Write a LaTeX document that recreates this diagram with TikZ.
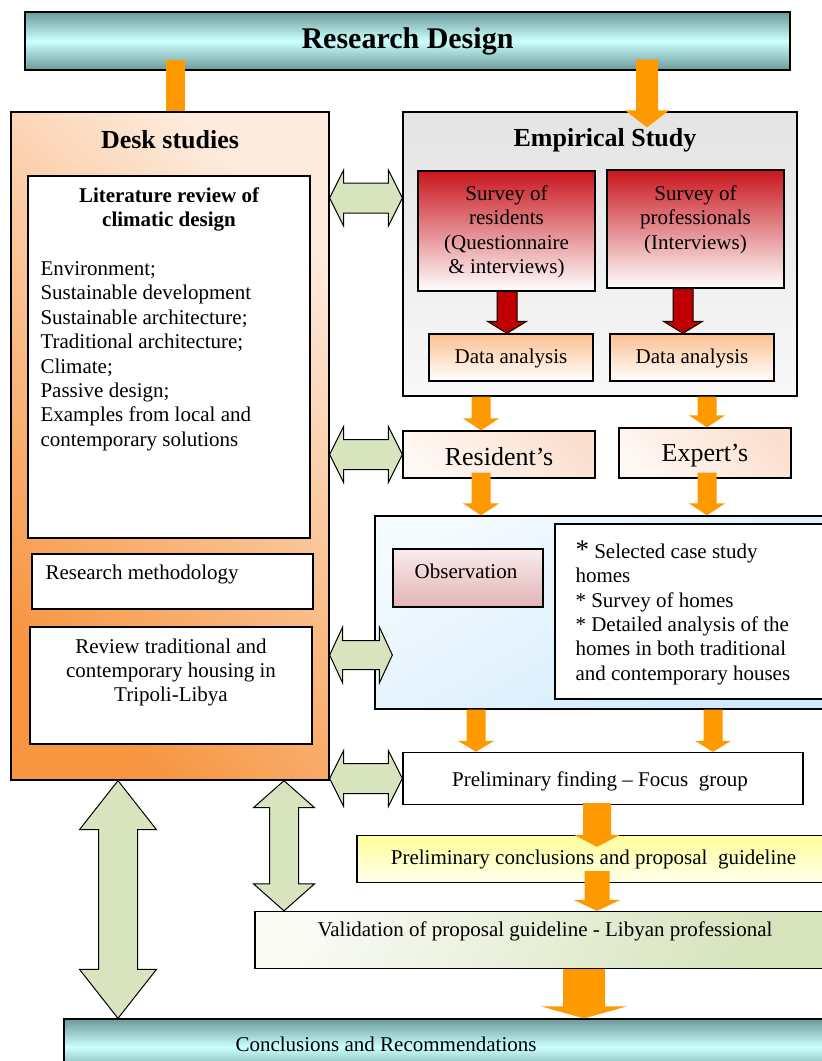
\documentclass[tikz,border=0pt]{standalone}
\usepackage{fontspec}
\setmainfont{Liberation Serif}
\usetikzlibrary{calc,positioning}
\definecolor{rdorange}{HTML}{FF9900}
\definecolor{rdgreen}{HTML}{D7E4BD}
\definecolor{rdred}{HTML}{C00000}
\definecolor{rdteal}{HTML}{6C9A9A}
\definecolor{rdcyan}{HTML}{CCFFFF}
\definecolor{rddesk}{HTML}{F79540}
\definecolor{rddesklight}{HTML}{FDEBDD}
\definecolor{rdgrey}{HTML}{E4E4E4}
\definecolor{rdgreylight}{HTML}{F8F8F8}
\definecolor{rdsurvey}{HTML}{C8161D}
\definecolor{rdapricot}{HTML}{FBC08F}
\definecolor{rdpeach}{HTML}{FBE0CF}
\definecolor{rdpeachlight}{HTML}{FFF8F3}
\definecolor{rdsky}{HTML}{F4FAFF}
\definecolor{rdskydeep}{HTML}{D0EAFB}
\definecolor{rdrose}{HTML}{F9ECEC}
\definecolor{rdrosedeep}{HTML}{E3B3B4}
\definecolor{rdlemon}{HTML}{FFFF99}
\definecolor{rdlemonlight}{HTML}{FFFFEC}
\definecolor{rdolive}{HTML}{D6E3BB}
\definecolor{rdolivelight}{HTML}{F8FAF3}
\newcommand\bodysize{\fontsize{21pt}{24.4pt}\selectfont}
\newcommand\headsize{\fontsize{26pt}{30pt}\selectfont}
\newcommand\bannersize{\fontsize{30pt}{36pt}\selectfont}
\tikzset{
  box/.style={draw,line width=1.3pt,inner sep=0pt},
  plainbox/.style={box,fill=white},
  tealbox/.style={box,top color=rdteal,bottom color=rdteal,middle color=rdcyan},
  deskbox/.style={box,top color=rddesklight,bottom color=rddesk,shading angle=-45},
  greybox/.style={box,top color=rdgrey,bottom color=rdgreylight},
  redbox/.style={box,top color=rdsurvey,bottom color=white},
  apricotbox/.style={box,top color=rdapricot,bottom color=white},
  peachbox/.style={box,top color=rdpeach,bottom color=rdpeachlight,shading angle=-45},
  skybox/.style={box,top color=rdsky,bottom color=rdskydeep,shading angle=30},
  rosebox/.style={box,top color=rdrose,bottom color=rdrosedeep},
  lemonbox/.style={box,top color=rdlemon,bottom color=rdlemonlight},
  olivebox/.style={box,top color=rdolivelight,bottom color=rdolive,shading angle=60},
  txt/.style={inner sep=0pt},
  fat/.style args={#1/#2/#3}{to path={
    ($(\tikztostart)!#1!90:(\tikztotarget)$)
    -- ($(\tikztotarget)!#3!(\tikztostart)!#1!-90:(\tikztostart)$)
    -- ($(\tikztotarget)!#3!(\tikztostart)!#2!-90:(\tikztostart)$)
    -- (\tikztotarget)
    -- ($(\tikztotarget)!#3!(\tikztostart)!#2!90:(\tikztostart)$)
    -- ($(\tikztotarget)!#3!(\tikztostart)!#1!90:(\tikztostart)$)
    -- ($(\tikztostart)!#1!-90:(\tikztotarget)$)
    -- cycle}},
  fatboth/.style args={#1/#2/#3}{to path={
    (\tikztostart)
    -- ($(\tikztostart)!#3!(\tikztotarget)!#2!90:(\tikztotarget)$)
    -- ($(\tikztostart)!#3!(\tikztotarget)!#1!90:(\tikztotarget)$)
    -- ($(\tikztotarget)!#3!(\tikztostart)!#1!-90:(\tikztostart)$)
    -- ($(\tikztotarget)!#3!(\tikztostart)!#2!-90:(\tikztostart)$)
    -- (\tikztotarget)
    -- ($(\tikztotarget)!#3!(\tikztostart)!#2!90:(\tikztostart)$)
    -- ($(\tikztotarget)!#3!(\tikztostart)!#1!90:(\tikztostart)$)
    -- ($(\tikztostart)!#3!(\tikztotarget)!#1!-90:(\tikztotarget)$)
    -- ($(\tikztostart)!#3!(\tikztotarget)!#2!-90:(\tikztotarget)$)
    -- cycle}},
  flow/.style={fill=rdorange},
  link/.style={draw,fill=rdgreen,line width=1pt},
  drill/.style={draw,fill=rdred,line width=1pt}
}
\begin{document}
\begin{tikzpicture}[x=1pt,y=-1pt,font=\bodysize]
  \useasboundingbox (0,0) rectangle (822,1061);
  \coordinate (laneA) at (175,0);
  \coordinate (laneB) at (647,0);
  \coordinate (laneC) at (481,0);
  \coordinate (laneD) at (707,0);
  \coordinate (laneE) at (118,0);
  \coordinate (laneF) at (284,0);
  \coordinate (laneG) at (507,0);
  \coordinate (laneH) at (683,0);
  \coordinate (laneI) at (476,0);
  \coordinate (laneJ) at (713,0);
  \coordinate (laneK) at (597,0);
  \coordinate (laneL) at (584,0);
  \coordinate (rowA) at (0,198);
  \coordinate (rowB) at (0,655);

  \node[tealbox,minimum width=765pt,minimum height=58pt,font=\bannersize\bfseries] (design) at (407.5,41) {Research Design};

  \node[deskbox,minimum width=318pt,minimum height=668pt] (desk) at (170,446) {};
  \node[txt,anchor=base,font=\headsize\bfseries] (desktitle) at ([yshift=-37pt]desk.north) {Desk studies};
  \node[plainbox,minimum width=282pt,minimum height=362pt] (lit) at (169,357) {};
  \node[txt,anchor=north,align=center,font=\bodysize\bfseries] (littitle) at ([yshift=-12pt]lit.north) {Literature review of\\climatic design};
  \node[txt,anchor=north west,align=left] (litlist) at ([xshift=13pt,yshift=-86pt]lit.north west) {Environment;\\Sustainable development\\Sustainable architecture;\\Traditional architecture;\\Climate;\\Passive design;\\Examples from local and\\contemporary solutions};
  \node[plainbox,minimum width=281pt,minimum height=55pt] (method) at (172.5,581.5) {};
  \node[txt,anchor=base west] (methodtext) at ([xshift=14pt,yshift=-26pt]method.north west) {Research methodology};
  \node[plainbox,minimum width=282pt,minimum height=117pt] (review) at (171,685.5) {};
  \node[txt,anchor=north,align=center] (reviewtext) at ([yshift=-12pt]review.north) {Review traditional and\\contemporary housing in\\Tripoli-Libya};

  \node[greybox,minimum width=394pt,minimum height=284pt] (emp) at (600,254) {};
  \node[txt,anchor=base,font=\headsize\bfseries] (emptitle) at ([xshift=5pt,yshift=-35pt]emp.north) {Empirical Study};
  \node[redbox,minimum width=177pt,minimum height=120pt] (survres) at (506.5,231) {};
  \node[txt,anchor=north,align=center] (survrestext) at ([yshift=-15pt]survres.north) {Survey of\\residents\\(Questionnaire\\\& interviews)};
  \node[redbox,minimum width=177pt,minimum height=118pt] (survpro) at (695.5,229) {};
  \node[txt,anchor=north,align=center] (survprotext) at ([yshift=-16pt]survpro.north) {Survey of\\professionals\\(Interviews)};
  \node[apricotbox,minimum width=164pt,minimum height=47pt] (resdata) at (511,357.5) {};
  \node[txt,anchor=base] (resdatatext) at ([yshift=-30pt]resdata.north) {Data analysis};
  \node[apricotbox,minimum width=164pt,minimum height=47pt] (prodata) at (692,357.5) {};
  \node[txt,anchor=base] (prodatatext) at ([yshift=-30pt]prodata.north) {Data analysis};

  \node[peachbox,minimum width=192pt,minimum height=47pt] (res) at (499,454.5) {};
  \node[txt,anchor=base,font=\headsize] (restext) at ([yshift=-35pt]res.north) {Resident's};
  \node[peachbox,minimum width=172pt,minimum height=50pt] (exp) at (705,453) {};
  \node[txt,anchor=base,font=\headsize] (exptext) at ([yshift=-34pt]exp.north) {Expert's};

  \node[skybox,minimum width=455pt,minimum height=193pt] (field) at (602.5,612.5) {};
  \node[rosebox,minimum width=150pt,minimum height=58pt] (obs) at (468,578) {};
  \node[txt,anchor=base] (obstext) at ([xshift=-2pt,yshift=-30pt]obs.north) {Observation};
  \node[plainbox,minimum width=275pt,minimum height=175pt] (cases) at (692.5,611.5) {};
  \node[txt,anchor=north west,align=left] (casestext) at ([xshift=21pt,yshift=-17pt]cases.north west) {{\fontsize{27pt}{24.4pt}\selectfont *}\ Selected case study\\homes\\* Survey of homes\\* Detailed analysis of the\\homes in both traditional\\and contemporary houses};

  \node[plainbox,minimum width=400pt,minimum height=52pt] (finding) at (603,778.5) {};
  \node[txt,anchor=base] (findingtext) at ([xshift=-3pt,yshift=-35pt]finding.north) {Preliminary finding -- Focus\ \ group};
  \node[lemonbox,minimum width=473pt,minimum height=47pt] (prelim) at (593.5,859) {Preliminary conclusions and proposal\ \ guideline};
  \node[olivebox,minimum width=575pt,minimum height=57pt] (valid) at (542.5,940) {};
  \node[txt,anchor=base] (validtext) at ([xshift=2.5pt,yshift=-26pt]valid.north) {Validation of proposal guideline - Libyan professional};
  \node[tealbox,minimum width=766pt,minimum height=56pt] (final) at (447,1047) {};
  \node[txt,anchor=base] (finaltext) at ([xshift=-61pt,yshift=-33pt]final.north) {Conclusions and Recommendations};

  \draw[rdorange,line width=19pt] ([yshift=11pt]design.south -| laneA) -- (desk.north -| laneA);
  \path[flow,fat=11pt/22pt/17pt] ([yshift=11pt]design.south -| laneB) to ([yshift=-16pt]emp.north -| laneB);
  \path[drill,fat=10pt/19.5pt/12pt] (survres.south -| laneG) to (resdata.north -| laneG);
  \path[drill,fat=10pt/19.5pt/12pt] (survpro.south -| laneH) to (prodata.north -| laneH);
  \path[flow,fat=9.5pt/18pt/12pt] (emp.south -| laneC) to (res.north -| laneC);
  \path[flow,fat=9.5pt/18pt/12pt] (emp.south -| laneD) to (exp.north -| laneD);
  \path[flow,fat=9.5pt/18pt/12pt] ([yshift=6pt]res.south -| laneC) to (field.north -| laneC);
  \path[flow,fat=9.5pt/18pt/12pt] ([yshift=6pt]exp.south -| laneD) to (field.north -| laneD);
  \path[flow,fat=9.5pt/18pt/11pt] (field.south -| laneI) to (finding.north -| laneI);
  \path[flow,fat=9.5pt/18pt/11pt] (field.south -| laneJ) to (finding.north -| laneJ);
  \path[flow,fat=14pt/23pt/12pt] ([yshift=2pt]finding.south -| laneK) to ([yshift=-12pt]prelim.north -| laneK);
  \path[flow,fat=12.5pt/23.5pt/11pt] ([yshift=12pt]prelim.south -| laneK) to (valid.north -| laneK);
  \path[flow,fat=21pt/43pt/12pt] (valid.south -| laneL) to (final.north -| laneL);

  \path[link,fatboth=15pt/28pt/14pt] (desk.east |- rowA) to (emp.west |- rowA);
  \path[link,fatboth=15pt/28pt/14pt] (desk.east |- res.west) to (res.west);
  \path[link,fatboth=14.5pt/28pt/13pt] (desk.east |- rowB) to ([xshift=18pt]field.west |- rowB);
  \path[link,fatboth=15pt/28pt/14pt] (desk.east |- finding.west) to (finding.west);
  \path[link,fatboth=19.5pt/38.5pt/49pt] (desk.south -| laneE) to (final.north -| laneE);
  \path[link,fatboth=14.5pt/30.5pt/27pt] (desk.south -| laneF) to (valid.north -| laneF);
\end{tikzpicture}
\end{document}
